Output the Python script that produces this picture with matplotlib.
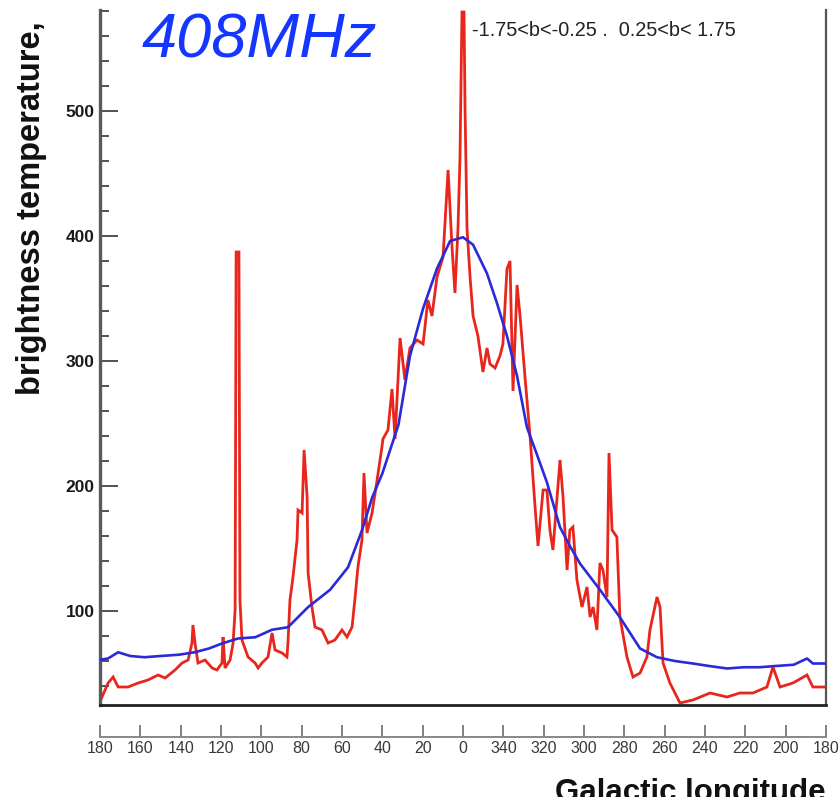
import matplotlib
matplotlib.use("Agg")
import matplotlib.pyplot as plt
from matplotlib.ticker import FixedLocator, MultipleLocator

# Galactic longitude in signed degrees: +180 ... 0 ... -180 (i.e. 180 -> 0 -> 360 -> 180)
lon_model = [180, 176, 171, 165, 158, 150, 141, 133, 126, 119.5, 111.6, 103, 94.7, 86.8, 76.9,
             65.9, 57, 50, 45, 40, 32, 26.3, 19.8, 12.9, 6.4, 0, -5, -11.9, -16.9, -21.8,
             -26.8, -31.7, -36.7, -41.6, -48.1, -53, -58, -67.9, -77.8, -87.8, -96.2, -105,
             -114, -122, -131, -139, -147, -155, -164, -170.6, -173.5, -180]
temp_model = [61, 62, 67, 64, 63, 64, 65, 67, 70, 74, 78, 79, 85, 87, 103,
              117, 135, 165, 191, 210, 249, 304, 342, 374, 396, 399, 393, 370, 346, 320,
              288, 247, 225, 203, 167, 152, 138, 117, 95, 70, 63, 60,
              58, 56, 54, 55, 55, 56, 57, 62, 58, 58]

lon_data = [180.0, 179.0, 176.0, 173.5, 171.0, 166.1, 161.1, 156.2, 151.2, 147.7, 142.8,
            139.3, 136.3, 134.4, 133.9, 132.9, 131.4, 127.9, 124.4, 122.0, 119.5, 119.0,
            118.0, 115.5, 114.0, 113.0, 112.5, 111.1, 110.6, 109.6, 106.6, 103.1, 101.6,
            99.7, 96.7, 94.7, 93.2, 89.7, 87.3, 86.8, 85.8, 84.3, 82.3, 81.8, 79.8, 78.8,
            77.3, 76.8, 74.9, 73.4, 69.9, 66.9, 63.5, 60.0, 57.5, 55.0, 53.5, 52.1, 50.1,
            49.1, 47.6, 45.1, 42.6, 40.2, 39.7, 37.2, 35.2, 33.7, 31.2, 28.8, 26.3, 22.8,
            19.8, 17.4, 15.4, 12.9, 9.9, 7.4, 5.5, 4.0, 2.5, 1.5, 0.5, -0.5, -1.0, -2.0,
            -3.5, -5.0, -7.4, -9.9, -11.9, -13.4, -15.9, -18.3, -19.8, -21.8, -23.3, -24.8,
            -26.8, -28.3, -30.7, -33.2, -35.7, -37.2, -39.7, -41.6, -43.1, -44.6, -48.1,
            -49.6, -51.6, -53.0, -54.5, -56.5, -59.0, -61.5, -63.0, -64.5, -66.4, -67.9,
            -69.4, -71.4, -72.4, -73.9, -76.3, -77.8, -81.3, -84.3, -87.8, -91.2, -92.7,
            -96.2, -97.7, -99.2, -102.6, -107.6, -114.0, -122.5, -130.9, -137.3, -143.8,
            -150.7, -153.7, -157.2, -163.6, -170.6, -173.5, -180.0]
temp_data = [34.4, 31.2, 42.4, 47.2, 39.2, 39.2, 42.4, 44.8, 48.8, 46.4, 52.8,
             58.4, 60.8, 74.4, 88.8, 74.4, 58.4, 60.8, 54.4, 52.8, 58.4, 79.2,
             54.4, 60.8, 74.4, 100.8, 387.2, 387.2, 108.8, 76.8, 63.2, 58.4, 54.4,
             58.4, 63.2, 82.4, 68.8, 66.4, 63.2, 74.4, 108.8, 127.2, 156.8, 180.8, 178.4, 228.8,
             191.2, 130.4, 103.2, 87.2, 84.8, 74.4, 76.8, 84.8, 79.2, 87.2, 111.2, 135.2, 156.8,
             210.4, 162.4, 178.4, 204.8, 231.2, 237.6, 244.8, 277.6, 237.6, 318.4, 284.8, 310.4, 316.8,
             313.6, 348.8, 336.0, 367.2, 383.2, 452.8, 392.8, 354.4, 405.6, 462.4, 579.2, 579.2, 503.2, 405.6,
             367.2, 336.0, 320.0, 291.2, 310.4, 297.6, 294.4, 304.0, 313.6, 373.6, 380.0, 276.0,
             360.8, 336.0, 288.0, 240.8, 184.0, 152.0, 196.8, 196.8, 164.8, 148.8, 220.8,
             191.2, 132.8, 164.8, 167.2, 124.8, 103.2, 119.2, 95.2, 103.2, 84.8, 138.4,
             132.8, 111.2, 226.4, 164.8, 159.2, 95.2, 63.2, 47.2, 50.4, 63.2, 84.8,
             111.2, 103.2, 58.4, 42.4, 26.4, 28.8, 34.4, 31.2, 34.4, 34.4,
             39.2, 55.2, 39.2, 42.4, 48.8, 39.2, 39.2]

x_ticks = [180, 160, 140, 120, 100, 80, 60, 40, 20, 0, -20, -40, -60, -80, -100, -120, -140, -160, -180]
x_labels = ["180", "160", "140", "120", "100", "80", "60", "40", "20", "0",
            "340", "320", "300", "280", "260", "240", "220", "200", "180"]
y_ticks = [100, 200, 300, 400, 500]

sans = ["Liberation Sans", "DejaVu Sans"]

W, H = 839, 797
fig = plt.figure(figsize=(W / 100, H / 100), dpi=100)
ax = fig.add_axes([100 / W, 1 - 705 / H, 726 / W, 695 / H])

ax.plot(lon_data, temp_data, color="#e8261c", lw=2.0, zorder=2, solid_joinstyle="miter")
ax.plot(lon_model, temp_model, color="#2a2ad8", lw=1.9, zorder=3)

ax.set_xlim(180, -180)
ax.set_ylim(24.8, 580.8)

ax.spines["top"].set_visible(False)
ax.spines["left"].set_color("#5a5a5a")
ax.spines["left"].set_linewidth(2.4)
ax.spines["bottom"].set_color("#222222")
ax.spines["bottom"].set_linewidth(2.0)
ax.spines["right"].set_color("#555555")
ax.spines["right"].set_linewidth(1.6)

ax.set_xticks([])
ax.yaxis.set_major_locator(FixedLocator(y_ticks))
ax.yaxis.set_minor_locator(MultipleLocator(20))
ax.tick_params(axis="y", which="major", direction="in", length=13, width=1.3,
               color="#444444", pad=4, labelsize=12.5, labelcolor="#1a1a1a")
ax.tick_params(axis="y", which="minor", direction="in", length=6.5, width=1.3, color="#444444")
ax.tick_params(axis="y", right=False, which="both")
for lab in ax.get_yticklabels():
    lab.set_fontfamily(sans)
    lab.set_fontweight("bold")

# Longitude scale drawn a little below the frame
sec = ax.secondary_xaxis(-0.046)
sec.set_xticks(x_ticks)
sec.set_xticklabels(x_labels)
sec.spines["bottom"].set_color("#888888")
sec.spines["bottom"].set_linewidth(1.4)
sec.tick_params(axis="x", direction="in", length=8.5, width=1.3, color="#777777",
                pad=3, labelsize=11.5, labelcolor="#3a3a3a")
for lab in sec.get_xticklabels():
    lab.set_fontfamily(sans)

fig.text(142 / W, 1 - 57 / H, "408MHz", color="#1436ff", fontsize=45.5,
         fontstyle="italic", family=sans, ha="left", va="baseline")
fig.text(472 / W, 1 - 36 / H, "-1.75<b<-0.25 .  0.25<b< 1.75", color="#222222",
         fontsize=14.3, family=sans, ha="left", va="baseline")
fig.text(32 / W, 1 - 208 / H, "brightness temperature,", rotation=90, fontsize=23.5,
         fontweight="bold", family=sans, color="#111111", ha="center", va="center")
fig.text(826 / W, -0.005, "Galactic longitude", fontsize=22.5, fontweight="bold",
         family=sans, color="#111111", ha="right", va="baseline")

fig.savefig("out.png", dpi=100)
